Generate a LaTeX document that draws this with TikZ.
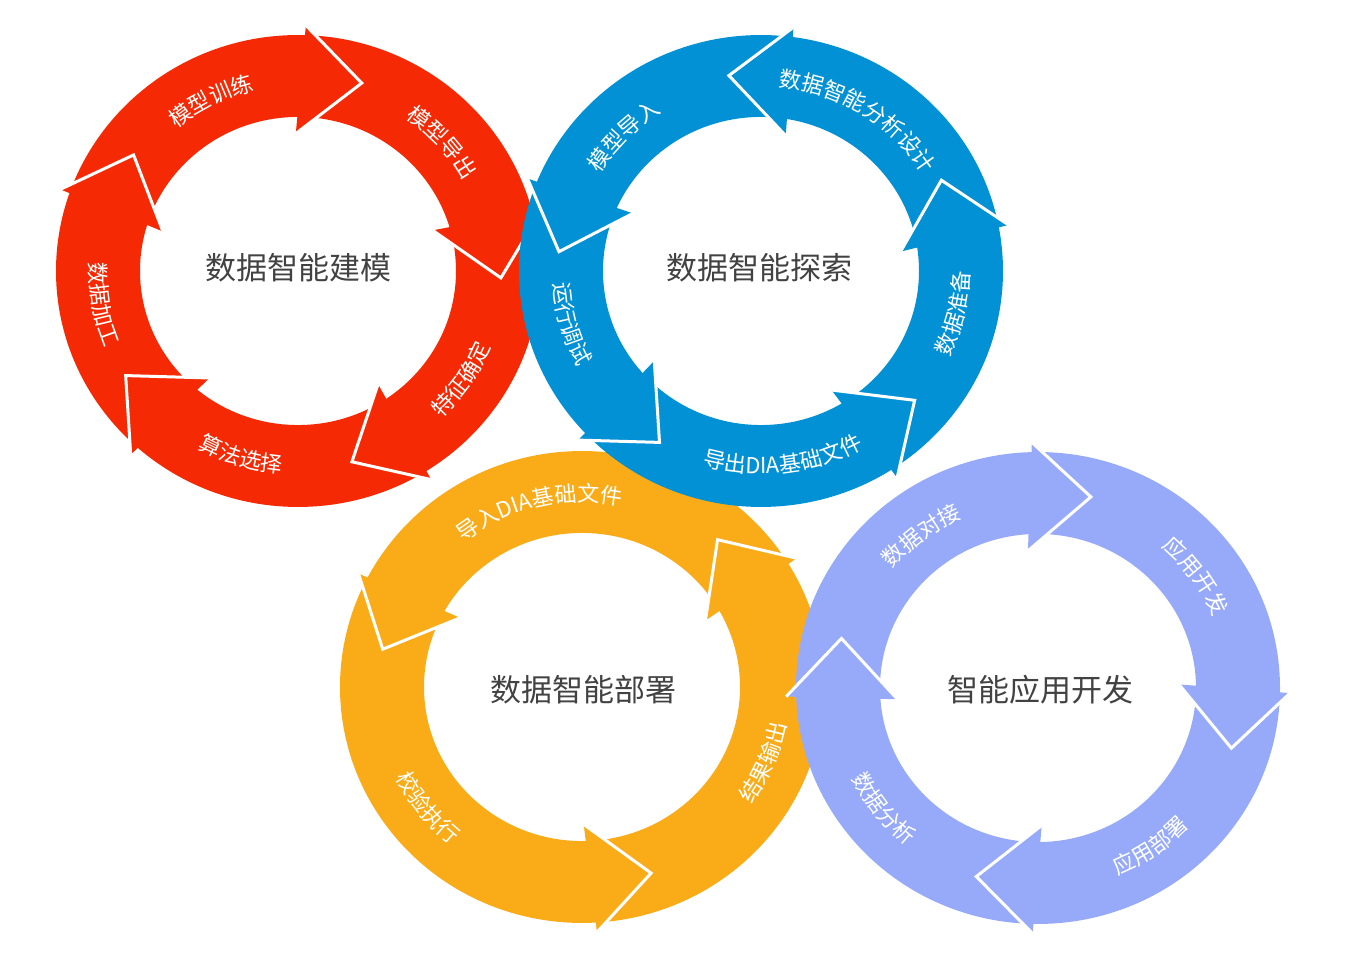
\documentclass[tikz,border=0pt]{standalone}
\usepackage{fontspec}
\setmainfont{Noto Sans CJK SC}
\usetikzlibrary{decorations.text}

\definecolor{ringred}{RGB}{245,41,4}
\definecolor{ringblue}{RGB}{2,145,213}
\definecolor{ringorange}{RGB}{250,171,24}
\definecolor{ringviolet}{RGB}{151,170,250}
\definecolor{titlegray}{RGB}{66,66,66}

\newcommand\lblfont{\fontsize{22}{22}\selectfont}
\newcommand\ctrfont{\fontsize{31}{31}\selectfont}

\tikzset{
  headedge/.style={draw=white, line width=3pt, line join=miter},
  ringtitle/.style={text=titlegray, font=\ctrfont, inner sep=0pt},
}

% full ring band
\newcommand\arrowring[1]{%
  \fill[#1, even odd rule] (0,0) circle[radius=242] (0,0) circle[radius=158];}

% arrow head: #1 colour, #2 angle of the outer barb, #3 direction (+1 ccw, -1 cw)
\newcommand\ringhead[3]{%
  \fill[#1] ({#2-2.7*(#3)}:141) -- ({#2+16.5*(#3)}:203) -- (#2:252) -- cycle;
  \draw[headedge] ({#2-2.7*(#3)}:141) -- ({#2+16.5*(#3)}:203) -- (#2:252);}

% label on the upper half: runs clockwise, letters upright outward
\newcommand\toplabel[2]{%
  \path[decorate, decoration={text along path, text align=center,
    text color=white, text={|\lblfont|#2}}]
    ({#1+70}:190) arc[start angle={#1+70}, end angle={#1-70}, radius=190];}

% label on the lower half: runs counter-clockwise, letters upright inward
\newcommand\bottomlabel[2]{%
  \path[decorate, decoration={text along path, text align=center,
    text color=white, text={|\lblfont|#2}}]
    ({#1-70}:208) arc[start angle={#1-70}, end angle={#1+70}, radius=208];}

\begin{document}
\begin{tikzpicture}[x=1pt,y=1pt]
\useasboundingbox (0,0) rectangle (1361,963);

% modelling cycle
\begin{scope}[shift={(298,692)}, yscale=0.975]
  \arrowring{ringred}
  \ringhead{ringred}{88.2}{-1}
  \ringhead{ringred}{14.5}{-1}
  \ringhead{ringred}{-58.1}{-1}
  \ringhead{ringred}{-131.6}{-1}
  \ringhead{ringred}{160.6}{-1}
  \toplabel{117}{模型训练}
  \toplabel{41.7}{模型导出}
  \bottomlabel{-33.6}{特征确定}
  \bottomlabel{253}{算法选择}
  \bottomlabel{189.8}{数据加工}
\end{scope}

% deployment cycle
\begin{scope}[shift={(582,276)}, yscale=0.975]
  \arrowring{ringorange}
  \ringhead{ringorange}{152.5}{1}
  \ringhead{ringorange}{-86.6}{1}
  \ringhead{ringorange}{31.6}{1}
  \toplabel{103.7}{导入DIA基础文件}
  \bottomlabel{-22.6}{结果输出}
  \bottomlabel{218.3}{校验执行}
\end{scope}

% application cycle
\begin{scope}[shift={(1038,275)}, yscale=0.975]
  \arrowring{ringviolet}
  \ringhead{ringviolet}{91.4}{-1}
  \ringhead{ringviolet}{-1.2}{-1}
  \ringhead{ringviolet}{-91.2}{-1}
  \ringhead{ringviolet}{182}{-1}
  \toplabel{127.3}{数据对接}
  \toplabel{35.4}{应用开发}
  \bottomlabel{-54.8}{应用部署}
  \bottomlabel{218.3}{数据分析}
\end{scope}

% exploration cycle
\begin{scope}[shift={(761,692)}, yscale=0.975]
  \arrowring{ringblue}
  \ringhead{ringblue}{82.6}{1}
  \ringhead{ringblue}{157.9}{1}
  \ringhead{ringblue}{223.5}{1}
  \ringhead{ringblue}{-57.3}{1}
  \ringhead{ringblue}{10.8}{1}
  \toplabel{135.4}{模型导入}
  \toplabel{57.6}{数据智能分析设计}
  \bottomlabel{-12.4}{数据准备}
  \bottomlabel{276.7}{导出DIA基础文件}
  \bottomlabel{195.6}{运行调试}
\end{scope}

\node[ringtitle] (title-model)   at (298,695)  {数据智能建模};
\node[ringtitle] (title-explore) at (759,695)  {数据智能探索};
\node[ringtitle] (title-deploy)  at (583,273)  {数据智能部署};
\node[ringtitle] (title-app)     at (1040,273) {智能应用开发};
\end{tikzpicture}
\end{document}
